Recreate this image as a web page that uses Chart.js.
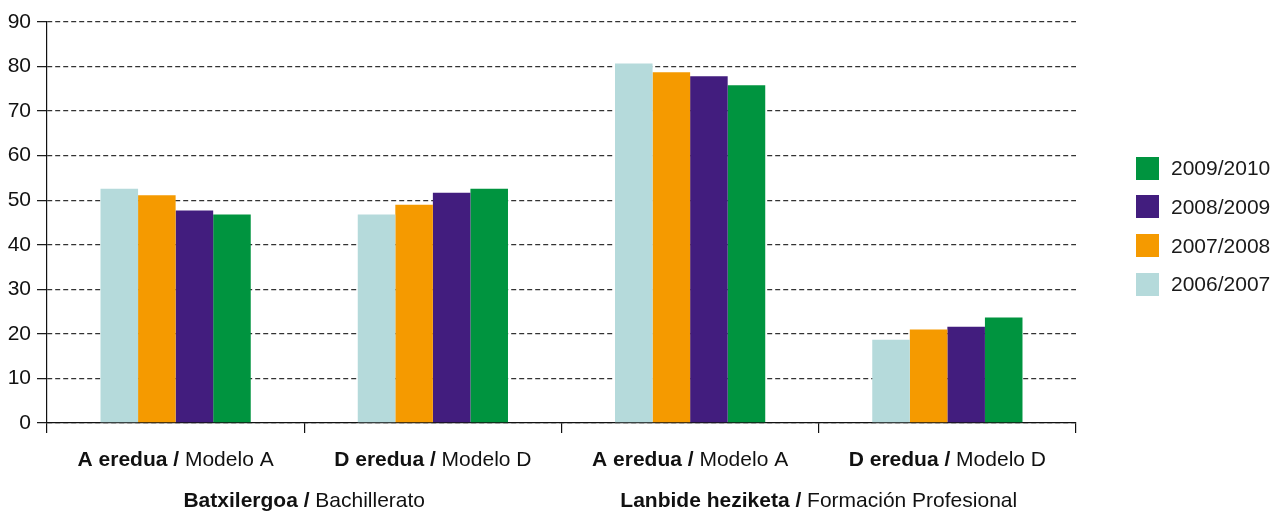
<!DOCTYPE html>
<html><head><meta charset="utf-8">
<script src="https://cdn.jsdelivr.net/npm/chart.js@4/dist/chart.umd.min.js"></script>
<style>
html,body{margin:0;padding:0;background:#fff;}
#wrap{position:relative;width:1285px;height:512px;}
canvas{position:absolute;left:0;top:0;}
#legend{position:absolute;left:1136px;top:0;font-family:"Liberation Sans",Arial,sans-serif;font-size:21px;color:#1a1a1a;}
.item{position:absolute;left:0;display:flex;align-items:center;white-space:nowrap;height:23px;}
.box{width:23px;height:23px;margin-right:12px;flex:none;}
</style></head>
<body><div id="wrap"><canvas id="c" width="1285" height="512"></canvas><div id="legend"></div></div>
<script>
// ---- data ----
const categoryBold = ["A eredua /", "D eredua /", "A eredua /", "D eredua /"];
const categoryRegular = [" Modelo A", " Modelo D", " Modelo A", " Modelo D"];
const groupBold = ["Batxilergoa /", "Lanbide heziketa /"];
const groupRegular = [" Bachillerato", " Formación Profesional"];
const groupFirst = [0, 2];
const groupLast = [1, 3];
const seriesNames = ["2006/2007", "2007/2008", "2008/2009", "2009/2010"];
const s2006 = [52.6, 46.8, 80.7, 18.7];
const s2007 = [51.1, 49.0, 78.7, 21.0];
const s2008 = [47.7, 51.7, 77.8, 21.6];
const s2009 = [46.8, 52.6, 75.8, 23.7];
const yTicks = [0, 10, 20, 30, 40, 50, 60, 70, 80, 90];

const colors = ["#b5dadb", "#f59a00", "#421d7e", "#00943f"];
const seriesValues = [s2006, s2007, s2008, s2009];
const FONT = '"Liberation Sans", Arial, sans-serif';

const datasets = seriesValues.map((v, i) => ({
  label: seriesNames[i], data: v, backgroundColor: colors[i], borderWidth: 0,
  categoryPercentage: 0.584, barPercentage: 1.0
}));

function drawMixed(ctx, bold, reg, cx, y) {
  ctx.font = 'bold 21px ' + FONT;
  const w1 = ctx.measureText(bold).width;
  ctx.font = '21px ' + FONT;
  const w2 = ctx.measureText(reg).width;
  const x0 = cx - (w1 + w2) / 2;
  ctx.textAlign = 'left';
  ctx.textBaseline = 'middle';
  ctx.fillStyle = '#111';
  ctx.font = 'bold 21px ' + FONT;
  ctx.fillText(bold, x0, y);
  ctx.font = '21px ' + FONT;
  ctx.fillText(reg, x0 + w1, y);
}

const labelPlugin = {
  id: 'xlabels',
  afterDraw(chart) {
    const ctx = chart.ctx, x = chart.scales.x;
    ctx.save();
    categoryBold.forEach((b, i) => drawMixed(ctx, b, categoryRegular[i], x.getPixelForValue(i), 460));
    groupBold.forEach((b, i) => {
      const cx = (x.getPixelForValue(groupFirst[i]) + x.getPixelForValue(groupLast[i])) / 2;
      drawMixed(ctx, b, groupRegular[i], cx, 501);
    });
    ctx.restore();
  }
};

new Chart(document.getElementById('c'), {
  type: 'bar',
  data: { labels: categoryBold.map((b, i) => b + categoryRegular[i]), datasets },
  options: {
    responsive: false, animation: false, devicePixelRatio: 1,
    layout: { padding: { left: 0, right: 209, top: 22, bottom: 0 } },
    plugins: { legend: { display: false }, tooltip: { enabled: false } },
    scales: {
      x: {
        offset: true,
        grid: { display: true, offset: true, drawOnChartArea: false, drawTicks: true, tickLength: 10, color: '#111', lineWidth: 1.2 },
        border: { display: true, color: '#111', width: 1.2 },
        ticks: { display: false },
        afterFit(s) { s.height = 89; s.paddingLeft = 0; s.paddingRight = 0; }
      },
      y: {
        min: 0, max: 90,
        afterBuildTicks(s) { s.ticks = yTicks.map(v => ({ value: v })); },
        grid: { color: '#333', lineWidth: 1.3, drawTicks: true, tickLength: 10, tickColor: '#111', tickWidth: 1.2, tickBorderDash: [] },
        border: { display: true, color: '#111', width: 1.2, dash: [5, 3] },
        ticks: { color: '#111', padding: 6, font: { family: FONT, size: 21 } },
        afterFit(s) { s.width = 47; s.paddingTop = 0; s.paddingBottom = 0; }
      }
    }
  },
  plugins: [labelPlugin]
});

const legend = document.getElementById('legend');
for (let k = 0; k < seriesNames.length; k++) {
  const i = seriesNames.length - 1 - k;
  const it = document.createElement('div');
  it.className = 'item';
  it.style.top = (156.5 + k * 38.8) + 'px';
  const bx = document.createElement('div');
  bx.className = 'box';
  bx.style.background = colors[i];
  const tx = document.createElement('span');
  tx.textContent = seriesNames[i];
  it.appendChild(bx); it.appendChild(tx);
  legend.appendChild(it);
}
</script>
</body></html>
